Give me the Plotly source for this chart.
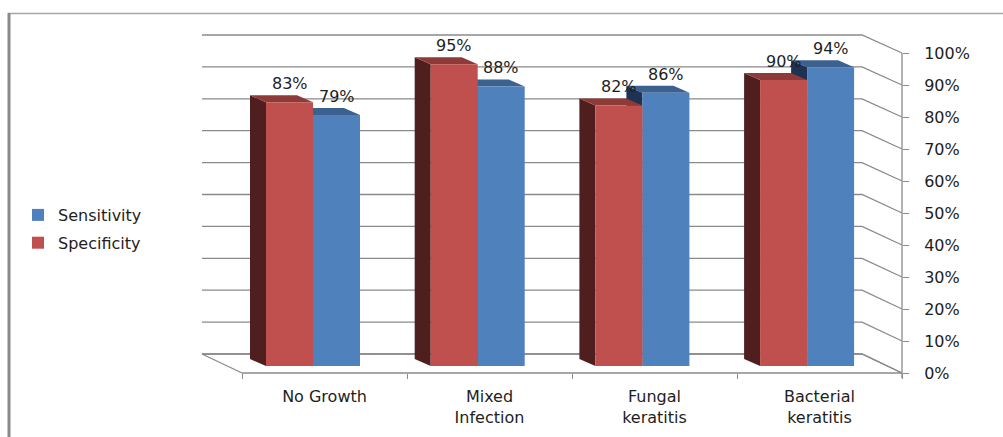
import plotly.graph_objects as go

# ---------------- data ----------------
categories = ["No Growth", "Mixed Infection", "Fungal keratitis", "Bacterial keratitis"]
category_labels = ["No Growth", "Mixed<br>Infection", "Fungal<br>keratitis", "Bacterial<br>keratitis"]
sensitivity = [79, 88, 86, 94]
specificity = [83, 95, 82, 90]
tick_values = [0, 10, 20, 30, 40, 50, 60, 70, 80, 90, 100]
tick_labels = [f"{v}%" for v in tick_values]

# ---------------- styling / geometry (pseudo 3-D, measured in pixels) ----------------
W, H = 1003, 437
FONT = "DejaVu Sans"
FS = 16
TXT = "#1e1e1e"
GRID = "#8a8a8a"

RED_FRONT, RED_SIDE, RED_TOP = "#C0504D", "#4E1F1E", "#8E3A38"
BLUE_FRONT, BLUE_SIDE, BLUE_TOP = "#4F81BD", "#1E3352", "#3B6191"

# bar plane
BAR_X0, BAR_SX = 313.0, 164.7      # px of first category centre, px per category
BAR_Y0, BAR_SY = 366.0, 3.177      # px of 0 %, px per %
BW = 47.0 / BAR_SX                 # single bar width (category units)
DX = -16.0 / BAR_SX                # bar depth offset
DY = 7.0 / BAR_SY

# back wall and front plane
BACK_L, BACK_R, BACK_Y0, BACK_SY = 202.0, 862.0, 354.0, 3.19
FRONT_L, FRONT_R, FRONT_Y0, FRONT_SY = 242.0, 902.0, 373.0, 3.2
FRONT_SX = (FRONT_R - FRONT_L) / 4.0


def to_data(px, py):
    return (px - BAR_X0) / BAR_SX, (BAR_Y0 - py) / BAR_SY


def path(points, close=True):
    s = "M " + " L ".join(f"{x:.5f},{y:.5f}" for x, y in points)
    return s + (" Z" if close else "")


shapes = []

# back-wall gridlines with slant to the front value axis
for v in tick_values:
    pts = [to_data(BACK_L, BACK_Y0 - BACK_SY * v),
           to_data(BACK_R, BACK_Y0 - BACK_SY * v),
           to_data(FRONT_R, FRONT_Y0 - FRONT_SY * v)]
    shapes.append(dict(type="path", path=path(pts, close=False), xref="x", yref="y",
                       line=dict(color=GRID, width=1.3), layer="below"))
# floor outline
floor = [to_data(FRONT_L, FRONT_Y0), to_data(BACK_L, BACK_Y0),
         to_data(BACK_R, BACK_Y0), to_data(FRONT_R, FRONT_Y0)]
shapes.append(dict(type="path", path=path(floor), xref="x", yref="y",
                   line=dict(color=GRID, width=1.3), layer="below"))
# value-axis line
a0 = to_data(FRONT_R, FRONT_Y0 - FRONT_SY * tick_values[-1])
a1 = to_data(FRONT_R, FRONT_Y0 + 5)
shapes.append(dict(type="line", x0=a0[0], y0=a0[1], x1=a1[0], y1=a1[1], xref="x", yref="y",
                   line=dict(color=GRID, width=1.3), layer="below"))


def faces(c_left, v, side_col, top_col):
    side = [(c_left, 0), (c_left, v), (c_left + DX, v + DY), (c_left + DX, DY)]
    top = [(c_left, v), (c_left + BW, v), (c_left + BW + DX, v + DY), (c_left + DX, v + DY)]
    return [dict(type="path", path=path(side), xref="x", yref="y", fillcolor=side_col,
                 line=dict(width=0), layer="below"),
            dict(type="path", path=path(top), xref="x", yref="y", fillcolor=top_col,
                 line=dict(width=0), layer="below")]


for i, v in enumerate(sensitivity):
    shapes += faces(i, v, BLUE_SIDE, BLUE_TOP)
for i, v in enumerate(specificity):
    shapes += faces(i - BW, v, RED_SIDE, RED_TOP)

# frame lines of the picture
shapes.append(dict(type="line", xref="paper", yref="paper", x0=8 / W, x1=1, y0=1 - 13.5 / H, y1=1 - 13.5 / H,
                   line=dict(color="#a6a6a6", width=1.5)))
shapes.append(dict(type="line", xref="paper", yref="paper", x0=9 / W, x1=9 / W, y0=0, y1=1 - 13 / H,
                   line=dict(color="#8a8a8a", width=3)))

fig = go.Figure()
fig.add_trace(go.Bar(x=list(range(len(categories))), y=sensitivity, name="Sensitivity",
                     legendgroup="sens", offset=0, width=BW,
                     marker=dict(color=BLUE_FRONT, line=dict(width=0)), hovertext=categories))
fig.add_trace(go.Bar(x=list(range(len(categories))), y=specificity, name="Specificity",
                     legendgroup="spec", offset=-BW, width=BW,
                     marker=dict(color=RED_FRONT, line=dict(width=0)), hovertext=categories))
# helper trace so the front axes (category / value) are rendered
fig.add_trace(go.Scatter(x=categories, y=[0] * len(categories), xaxis="x2", yaxis="y2",
                         mode="markers", marker=dict(opacity=0), showlegend=False, hoverinfo="skip"))

annotations = []
for i, v in enumerate(specificity):
    annotations.append(dict(x=i - BW / 2, y=v + DY, text=f"{v}%", showarrow=False,
                            xref="x", yref="y", yanchor="bottom", xanchor="center",
                            font=dict(family=FONT, size=FS, color=TXT)))
for i, v in enumerate(sensitivity):
    annotations.append(dict(x=i + BW / 2, y=v + DY, text=f"{v}%", showarrow=False,
                            xref="x", yref="y", yanchor="bottom", xanchor="center",
                            font=dict(family=FONT, size=FS, color=TXT)))

fig.update_layout(
    width=W, height=H, autosize=False,
    margin=dict(l=0, r=0, t=0, b=0, pad=0),
    paper_bgcolor="white", plot_bgcolor="white",
    barmode="overlay",
    font=dict(family=FONT, size=FS, color=TXT),
    showlegend=True,
    legend=dict(x=18 / W, y=1 - 198 / H, xanchor="left", yanchor="top",
                bgcolor="rgba(0,0,0,0)", font=dict(family=FONT, size=FS, color=TXT),
                itemwidth=30, traceorder="grouped", tracegroupgap=4),
    xaxis=dict(range=[-BAR_X0 / BAR_SX, (W - BAR_X0) / BAR_SX], visible=False, fixedrange=True),
    yaxis=dict(range=[(BAR_Y0 - H) / BAR_SY, BAR_Y0 / BAR_SY], visible=False, fixedrange=True),
    xaxis2=dict(type="category", overlaying="x", anchor="free", position=1 - FRONT_Y0 / H,
                side="bottom", categoryorder="array", categoryarray=categories,
                range=[(0 - (FRONT_L + FRONT_SX / 2)) / FRONT_SX, (W - (FRONT_L + FRONT_SX / 2)) / FRONT_SX],
                tickvals=categories, ticktext=category_labels, tickson="boundaries",
                ticks="outside", ticklen=5, tickcolor=GRID, tickwidth=1.3,
                showline=False, showgrid=False, zeroline=False, ticklabelstandoff=12,
                tickfont=dict(family=FONT, size=FS, color=TXT), fixedrange=True),
    yaxis2=dict(overlaying="y", anchor="free", position=FRONT_R / W, side="right",
                range=[(FRONT_Y0 - H) / FRONT_SY, FRONT_Y0 / FRONT_SY],
                tickvals=tick_values, ticktext=tick_labels,
                ticks="outside", ticklen=6, tickcolor=GRID, tickwidth=1.3,
                showline=False, showgrid=False, zeroline=False, ticklabelstandoff=12,
                tickfont=dict(family=FONT, size=FS, color=TXT), fixedrange=True),
    shapes=shapes,
    annotations=annotations,
)

fig.write_html("out.html")
